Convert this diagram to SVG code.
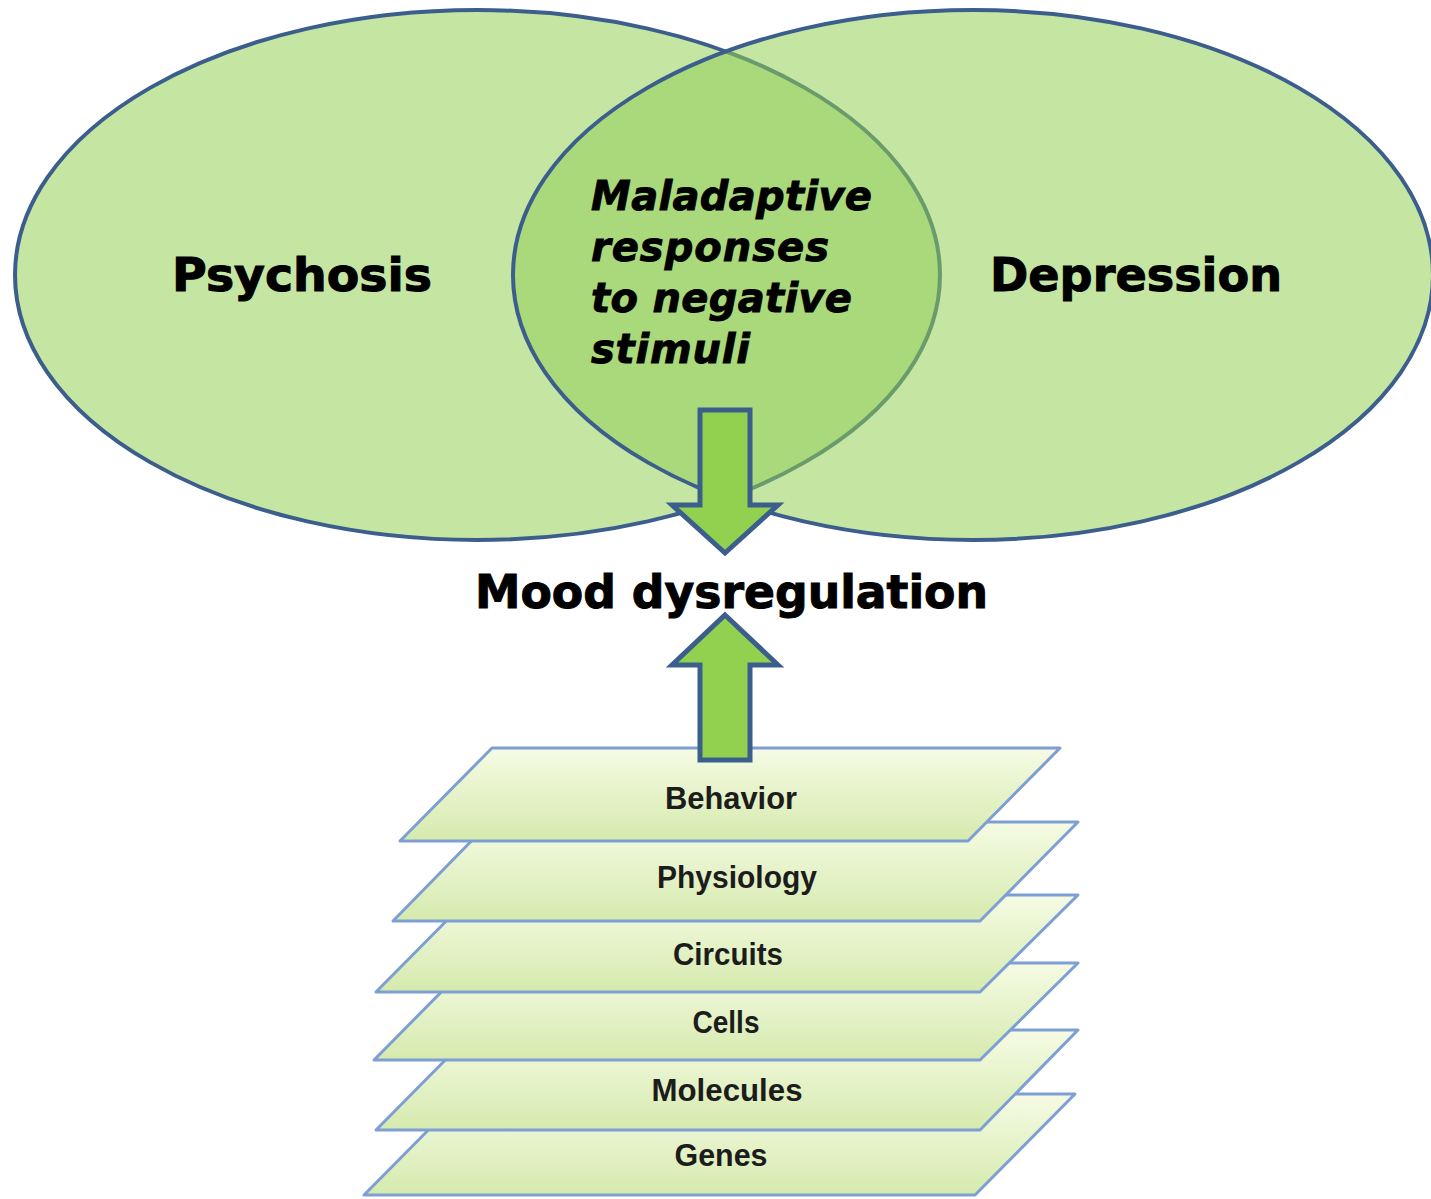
<svg xmlns="http://www.w3.org/2000/svg" width="1431" height="1199" viewBox="0 0 1431 1199">
<style>
.ell{fill:#c5e5a3;stroke:#3b5e8c;stroke-width:4}
.big{font-family:"DejaVu Sans",sans-serif;font-weight:bold;font-size:46px;fill:#000;stroke:#000;stroke-width:1}
.ital{font-family:"DejaVu Sans",sans-serif;font-weight:bold;font-style:italic;font-size:40px;fill:#000;stroke:#000;stroke-width:0.9}
.plane{fill:url(#pg);stroke:#7d9fd3;stroke-width:3;stroke-linejoin:round}
.lbl{font-family:"Liberation Sans",sans-serif;font-weight:bold;font-size:32px;fill:#1c1c1c;text-anchor:middle}
.arrow{fill:#92d050;stroke:#3b5e8c;stroke-width:5;stroke-linejoin:miter}
</style>
<defs>
<clipPath id="rc"><ellipse cx="973" cy="275" rx="460" ry="265"/></clipPath>
<linearGradient id="pg" x1="0" y1="0" x2="0" y2="1">
<stop offset="0" stop-color="#f6fbe4"/>
<stop offset="1" stop-color="#d5eaae"/>
</linearGradient>
</defs>
<rect width="1431" height="1199" fill="#fff"/>
<g id="psychosis">
<ellipse class="ell" cx="477.5" cy="275" rx="462.5" ry="265"/>
</g>
<g id="depression">
<ellipse cx="973" cy="275" rx="460" ry="265" fill="#c5e5a3"/>
</g>
<g id="overlap">
<ellipse cx="477.5" cy="275" rx="462.5" ry="265" fill="#a9d97b" clip-path="url(#rc)"/>
<ellipse cx="477.5" cy="275" rx="462.5" ry="265" fill="none" stroke="#6a9b6c" stroke-width="4" clip-path="url(#rc)"/>
<ellipse cx="973" cy="275" rx="460" ry="265" fill="none" stroke="#3b5e8c" stroke-width="4"/>
</g>
<g id="labels-venn">
<text class="big" x="172" y="291" textLength="260" lengthAdjust="spacingAndGlyphs">Psychosis</text>
<text class="big" x="990" y="291" textLength="292" lengthAdjust="spacingAndGlyphs">Depression</text>
<text class="ital" x="591" y="210" textLength="281">Maladaptive</text>
<text class="ital" x="591" y="261" textLength="238">responses</text>
<text class="ital" x="591" y="312" textLength="261">to negative</text>
<text class="ital" x="591" y="363" textLength="159">stimuli</text>
</g>
<g id="mood">
<text class="big" x="475" y="608" textLength="513" lengthAdjust="spacingAndGlyphs">Mood dysregulation</text>
</g>
<g id="genes">
<polygon class="plane" points="464,1094 1075,1094 975,1195 364,1195"/>
<text class="lbl" x="721" y="1166" textLength="93" lengthAdjust="spacingAndGlyphs">Genes</text>
</g>
<g id="molecules">
<polygon class="plane" points="475,1030 1078,1030 980,1130 376,1130"/>
<text class="lbl" x="727" y="1101" textLength="151" lengthAdjust="spacingAndGlyphs">Molecules</text>
</g>
<g id="cells">
<polygon class="plane" points="470,963 1078,963 980,1060 374,1060"/>
<text class="lbl" x="726" y="1033" textLength="67" lengthAdjust="spacingAndGlyphs">Cells</text>
</g>
<g id="circuits">
<polygon class="plane" points="472,895 1078,895 980,992 376,992"/>
<text class="lbl" x="728" y="965" textLength="110" lengthAdjust="spacingAndGlyphs">Circuits</text>
</g>
<g id="physiology">
<polygon class="plane" points="490,822 1078,822 980,921 393,921"/>
<text class="lbl" x="737" y="888" textLength="160" lengthAdjust="spacingAndGlyphs">Physiology</text>
</g>
<g id="behavior">
<polygon class="plane" points="492,748 1060,748 968,841 400,841"/>
<text class="lbl" x="731" y="809" textLength="132" lengthAdjust="spacingAndGlyphs">Behavior</text>
</g>
<g id="connectors">
<polygon class="arrow" points="700,410 750,410 750,505 778,505 725,553 672,505 700,505"/>
<polygon class="arrow" points="725,615 778,665 750,665 750,760 700,760 700,665 672,665"/>
</g>
</svg>
